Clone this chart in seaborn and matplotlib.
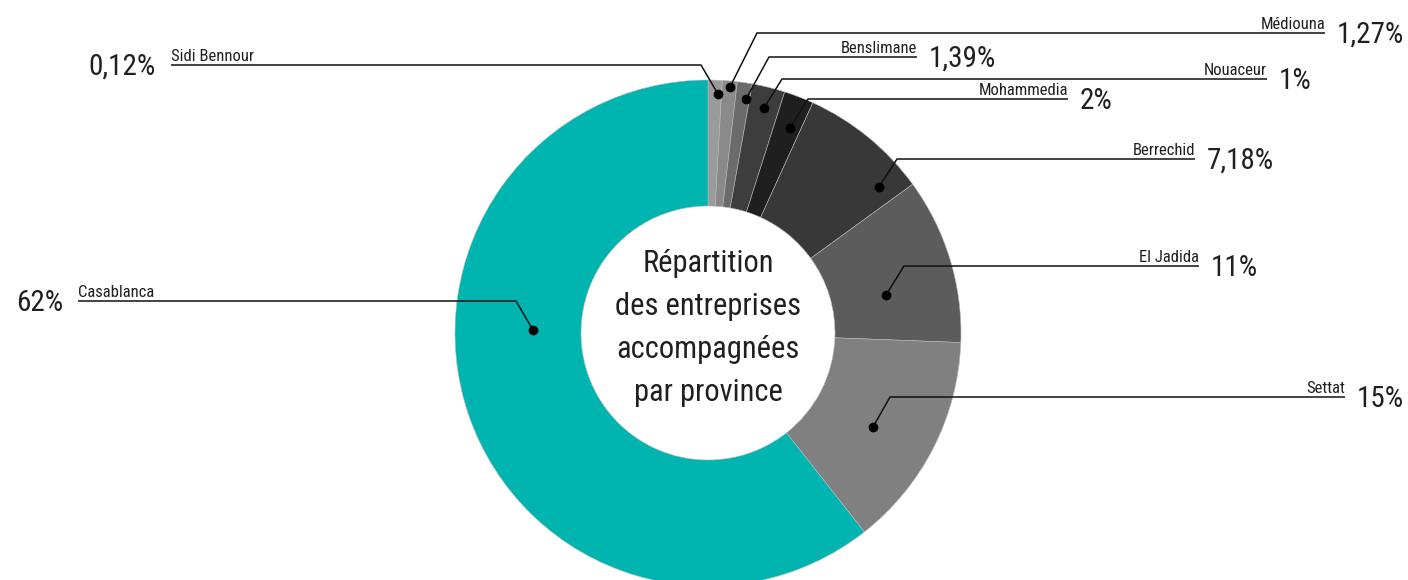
import matplotlib
matplotlib.use("Agg")
import matplotlib.pyplot as plt
from matplotlib import font_manager
import seaborn as sns

# provinces in drawing order (clockwise from the top)
provinces = ["Sidi Bennour", "Médiouna", "Benslimane", "Nouaceur", "Mohammedia",
             "Berrechid", "El Jadida", "Settat", "Casablanca"]
# slice sizes as drawn in the chart (%)
shares = [0.9, 0.95, 0.95, 2.1, 1.9, 8.2, 10.6, 13.8, 60.6]
# percentages printed next to the names
share_labels = ["0,12%", "1,27%", "1,39%", "1%", "2%", "7,18%", "11%", "15%", "62%"]

slice_colors = ["#9b9b9b", "#8a8a8a", "#6b6b6b", "#3d3d3d", "#1f1f1f",
                "#383838", "#5c5c5c", "#808080", "#00b5b0"]

center_title = "Répartition\ndes entreprises\naccompagnées\npar province"

# leader layout, pixels from top left
dot_xy = [(718, 94), (730, 87), (746, 99), (764, 108), (790, 128),
          (879, 187), (886, 295), (873, 427), (533, 330)]
elbow_xy = [(701, 65), (757, 33), (769, 57), (782, 79), (808, 99),
            (897, 159), (904, 266), (890, 397), (516, 301)]
line_end_x = [171, 1325, 917, 1267, 1068, 1195, 1199, 1345, 78]

W, H = 1408, 580
text_color = "#231f20"

sns.set_style("white")

# narrow font if there is one, Roboto otherwise
fonts = font_manager.fontManager.ttflist
names = {f.name for f in fonts}
family = "Roboto"
stretch = "normal"
for name in ["Roboto Condensed", "Liberation Sans Narrow", "Open Sans Condensed"]:
    if name in names:
        family = name
        break
else:
    for f in fonts:
        if f.name in ("Roboto", "DejaVu Sans", "Open Sans", "Noto Sans") and \
                str(f.stretch) in ("condensed", "semi-condensed", "extra-condensed"):
            family = f.name
            stretch = "condensed"
            break
plt.rcParams['font.family'] = [family, 'DejaVu Sans']
plt.rcParams['font.stretch'] = stretch

fig = plt.figure(figsize=(W / 100, H / 100), dpi=100)
ax = fig.add_axes([0, 0, 1, 1])

ax.pie(shares, colors=slice_colors, startangle=90, counterclock=False,
       radius=253, center=(708, H - 333),
       wedgeprops=dict(width=126, edgecolor="#b8b8b8", linewidth=0.4))

ax.text(708, H - 328, center_title, ha="center", va="center", fontsize=22,
        color=text_color, linespacing=1.6)

for i in range(len(provinces)):
    dx, dy = dot_xy[i]
    ex, ey = elbow_xy[i]
    lx = line_end_x[i]
    ax.plot([dx, ex, lx], [H - dy, H - ey, H - ey], color="#111111", lw=1.1,
            solid_capstyle="butt", zorder=5)
    ax.plot([dx], [H - dy], "o", color="#000000", ms=6, zorder=6)
    if lx > ex:
        ax.text(lx, H - ey + 4, provinces[i], ha="right", va="baseline",
                fontsize=12, color=text_color)
        ax.text(lx + 12, H - ey - 10, share_labels[i], ha="left", va="baseline",
                fontsize=21, color=text_color)
    else:
        ax.text(lx, H - ey + 4, provinces[i], ha="left", va="baseline",
                fontsize=12, color=text_color)
        ax.text(lx - 15, H - ey - 10, share_labels[i], ha="right", va="baseline",
                fontsize=21, color=text_color)

ax.set_xlim(0, W)
ax.set_ylim(0, H)
ax.set_aspect("equal")
ax.axis("off")

fig.savefig("out.png", dpi=100)
